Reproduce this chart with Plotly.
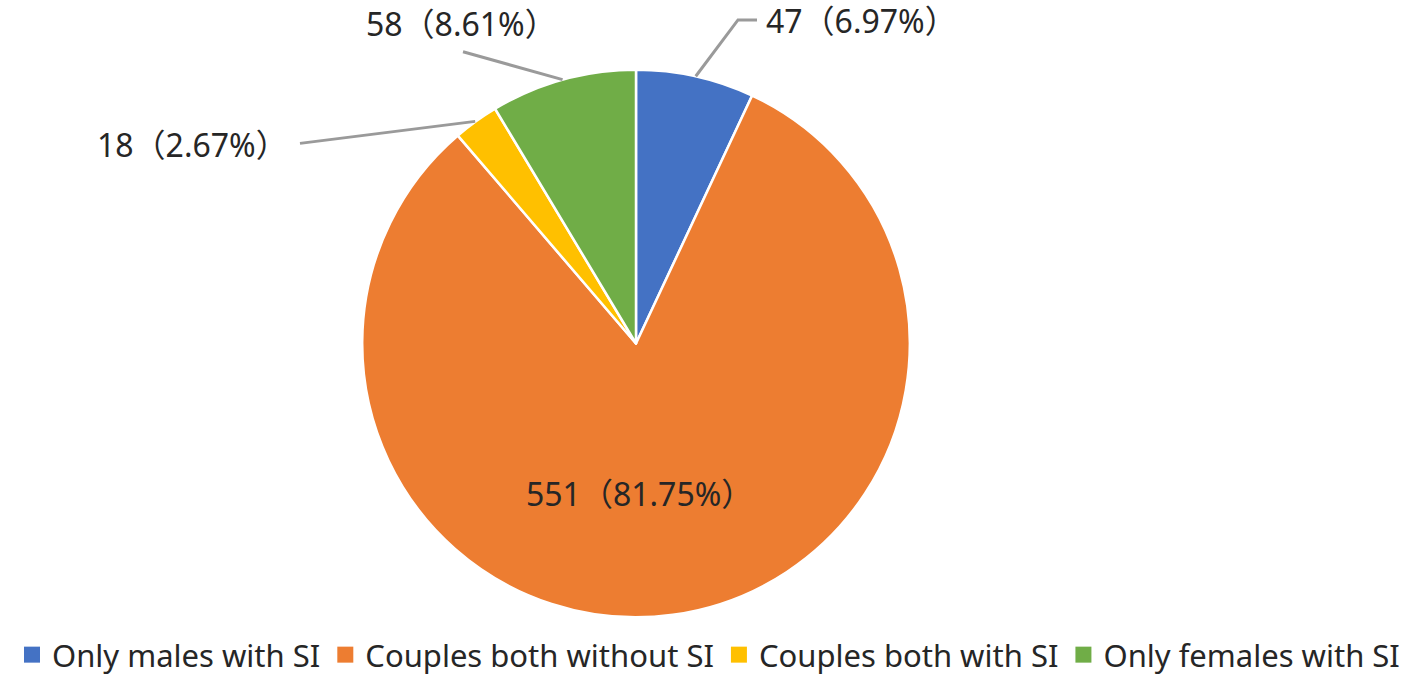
import math
import plotly.graph_objects as go

categories = ["Only males with SI", "Couples both without SI", "Couples both with SI", "Only females with SI"]
counts = [47, 551, 18, 58]
percent_labels = ["6.97%", "81.75%", "2.67%", "8.61%"]
colors = ["#4472C4", "#ED7D31", "#FFC000", "#70AD47"]

W, H = 1417, 682
CX, CY, R = 636, 345, 275
FONT = "Noto Sans, Noto Sans CJK SC, sans-serif"
TEXT_COLOR = "#262626"
LINE_COLOR = "#9A9A9A"

def px(x):
    return x / W

def py(y):
    return 1 - y / H

fig = go.Figure()
fig.add_trace(go.Pie(
    labels=categories,
    values=counts,
    sort=False,
    direction="clockwise",
    rotation=0,
    marker=dict(colors=colors, line=dict(color="white", width=2.5)),
    textinfo="none",
    showlegend=False,
    hovertemplate="%{label}<br>%{value} (%{percent})<extra></extra>",
    domain=dict(x=[px(CX - R), px(CX + R)], y=[py(CY + R), py(CY - R)]),
))

# legend entries with larger square swatches
for cat, col in zip(categories, colors):
    fig.add_trace(go.Scatter(x=[None], y=[None], mode="markers", name=cat,
                             marker=dict(symbol="square", size=20, color=col),
                             hoverinfo="skip"))

# label layout per slice
label_layout = [
    dict(points=[(738, 20), (757, 20)], pos=(764, 21), xanchor="left"),
    dict(pos=(639, 496), xanchor="center"),
    dict(points=[(300, 144)], pos=(290, 145), xanchor="right"),
    dict(points=[(463, 52)], pos=(461, 24), xanchor="center"),
]

total = sum(counts)
cum = 0
shapes = []
annotations = []
for i, (v, pct) in enumerate(zip(counts, percent_labels)):
    frac = (cum + v / 2) / total
    cum += v
    theta = 2 * math.pi * frac
    lay = label_layout[i]
    text = f"{v}（{pct}）"
    if "points" in lay:
        ex, ey = CX + R * math.sin(theta), CY - R * math.cos(theta)
        pts = [(ex, ey)] + lay["points"]
        path = "M " + " L ".join(f"{px(x):.5f},{py(y):.5f}" for x, y in pts)
        shapes.append(dict(type="path", xref="paper", yref="paper", path=path,
                           line=dict(color=LINE_COLOR, width=3)))
    lx, ly = lay["pos"]
    annotations.append(dict(x=px(lx), y=py(ly), xref="paper", yref="paper", text=text,
                            showarrow=False, xanchor=lay["xanchor"], yanchor="middle",
                            font=dict(family=FONT, size=32, color=TEXT_COLOR)))

fig.update_layout(
    width=W, height=H,
    margin=dict(l=0, r=0, t=0, b=0),
    paper_bgcolor="white",
    plot_bgcolor="white",
    xaxis=dict(visible=False),
    yaxis=dict(visible=False),
    shapes=shapes,
    annotations=annotations,
    showlegend=True,
    legend=dict(orientation="h", x=0.5, xanchor="center", y=py(658), yanchor="middle",
                font=dict(family=FONT, size=31, color=TEXT_COLOR),
                itemclick=False, itemdoubleclick=False, traceorder="normal"),
)

fig.write_html("out.html", config={"displayModeBar": False},
               post_script="document.body.style.margin='0';")
